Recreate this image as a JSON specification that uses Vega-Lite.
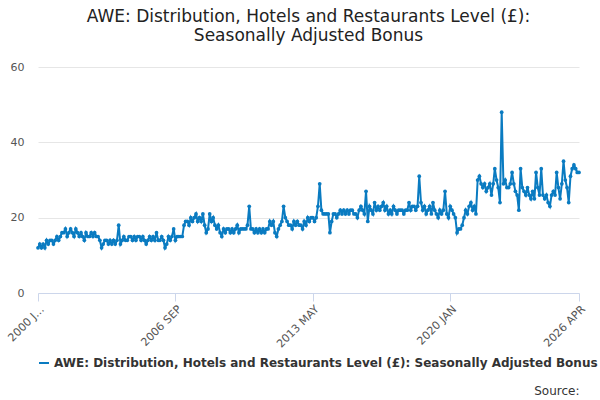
{"$schema":"https://vega.github.io/schema/vega-lite/v6.json","width":541,"height":226,"padding":{"left":5,"top":8,"right":18,"bottom":5},
"title":{"text":["AWE: Distribution, Hotels and Restaurants Level (£):","Seasonally Adjusted Bonus"],"font":"DejaVu Sans","fontSize":17,"fontWeight":"normal","color":"#222","offset":16},
"config":{"font":"DejaVu Sans","view":{"stroke":null}},
"data":{"values":[
{"d":"2000-01","v":12},{"d":"2000-02","v":13},{"d":"2000-03","v":12},{"d":"2000-04","v":13},{"d":"2000-05","v":12},{"d":"2000-06","v":14},{"d":"2000-07","v":13},{"d":"2000-08","v":14},{"d":"2000-09","v":14},{"d":"2000-10","v":13},{"d":"2000-11","v":14},{"d":"2000-12","v":15},
{"d":"2001-01","v":14},{"d":"2001-02","v":15},{"d":"2001-03","v":16},{"d":"2001-04","v":16},{"d":"2001-05","v":17},{"d":"2001-06","v":15},{"d":"2001-07","v":16},{"d":"2001-08","v":17},{"d":"2001-09","v":16},{"d":"2001-10","v":15},{"d":"2001-11","v":17},{"d":"2001-12","v":16},
{"d":"2002-01","v":15},{"d":"2002-02","v":16},{"d":"2002-03","v":15},{"d":"2002-04","v":14},{"d":"2002-05","v":16},{"d":"2002-06","v":15},{"d":"2002-07","v":15},{"d":"2002-08","v":16},{"d":"2002-09","v":15},{"d":"2002-10","v":16},{"d":"2002-11","v":15},{"d":"2002-12","v":15},
{"d":"2003-01","v":14},{"d":"2003-02","v":12},{"d":"2003-03","v":13},{"d":"2003-04","v":14},{"d":"2003-05","v":14},{"d":"2003-06","v":13},{"d":"2003-07","v":14},{"d":"2003-08","v":13},{"d":"2003-09","v":14},{"d":"2003-10","v":13},{"d":"2003-11","v":14},{"d":"2003-12","v":18},
{"d":"2004-01","v":13},{"d":"2004-02","v":14},{"d":"2004-03","v":15},{"d":"2004-04","v":14},{"d":"2004-05","v":14},{"d":"2004-06","v":15},{"d":"2004-07","v":15},{"d":"2004-08","v":14},{"d":"2004-09","v":15},{"d":"2004-10","v":14},{"d":"2004-11","v":15},{"d":"2004-12","v":15},
{"d":"2005-01","v":14},{"d":"2005-02","v":15},{"d":"2005-03","v":14},{"d":"2005-04","v":13},{"d":"2005-05","v":14},{"d":"2005-06","v":15},{"d":"2005-07","v":14},{"d":"2005-08","v":15},{"d":"2005-09","v":14},{"d":"2005-10","v":16},{"d":"2005-11","v":14},{"d":"2005-12","v":14},
{"d":"2006-01","v":15},{"d":"2006-02","v":14},{"d":"2006-03","v":12},{"d":"2006-04","v":13},{"d":"2006-05","v":15},{"d":"2006-06","v":14},{"d":"2006-07","v":15},{"d":"2006-08","v":17},{"d":"2006-09","v":14},{"d":"2006-10","v":15},{"d":"2006-11","v":15},{"d":"2006-12","v":15},
{"d":"2007-01","v":15},{"d":"2007-02","v":18},{"d":"2007-03","v":19},{"d":"2007-04","v":19},{"d":"2007-05","v":18},{"d":"2007-06","v":20},{"d":"2007-07","v":19},{"d":"2007-08","v":20},{"d":"2007-09","v":21},{"d":"2007-10","v":19},{"d":"2007-11","v":20},{"d":"2007-12","v":19},
{"d":"2008-01","v":21},{"d":"2008-02","v":18},{"d":"2008-03","v":16},{"d":"2008-04","v":17},{"d":"2008-05","v":21},{"d":"2008-06","v":19},{"d":"2008-07","v":20},{"d":"2008-08","v":18},{"d":"2008-09","v":17},{"d":"2008-10","v":18},{"d":"2008-11","v":16},{"d":"2008-12","v":15},
{"d":"2009-01","v":17},{"d":"2009-02","v":16},{"d":"2009-03","v":17},{"d":"2009-04","v":17},{"d":"2009-05","v":16},{"d":"2009-06","v":17},{"d":"2009-07","v":16},{"d":"2009-08","v":17},{"d":"2009-09","v":18},{"d":"2009-10","v":16},{"d":"2009-11","v":17},{"d":"2009-12","v":17},
{"d":"2010-01","v":17},{"d":"2010-02","v":17},{"d":"2010-03","v":18},{"d":"2010-04","v":23},{"d":"2010-05","v":17},{"d":"2010-06","v":17},{"d":"2010-07","v":16},{"d":"2010-08","v":17},{"d":"2010-09","v":16},{"d":"2010-10","v":17},{"d":"2010-11","v":16},{"d":"2010-12","v":17},
{"d":"2011-01","v":16},{"d":"2011-02","v":17},{"d":"2011-03","v":17},{"d":"2011-04","v":19},{"d":"2011-05","v":18},{"d":"2011-06","v":19},{"d":"2011-07","v":16},{"d":"2011-08","v":15},{"d":"2011-09","v":17},{"d":"2011-10","v":18},{"d":"2011-11","v":19},{"d":"2011-12","v":23},
{"d":"2012-01","v":20},{"d":"2012-02","v":19},{"d":"2012-03","v":18},{"d":"2012-04","v":18},{"d":"2012-05","v":17},{"d":"2012-06","v":19},{"d":"2012-07","v":18},{"d":"2012-08","v":19},{"d":"2012-09","v":18},{"d":"2012-10","v":18},{"d":"2012-11","v":17},{"d":"2012-12","v":19},
{"d":"2013-01","v":18},{"d":"2013-02","v":20},{"d":"2013-03","v":19},{"d":"2013-04","v":20},{"d":"2013-05","v":20},{"d":"2013-06","v":19},{"d":"2013-07","v":20},{"d":"2013-08","v":23},{"d":"2013-09","v":29},{"d":"2013-10","v":22},{"d":"2013-11","v":21},{"d":"2013-12","v":21},
{"d":"2014-01","v":21},{"d":"2014-02","v":21},{"d":"2014-03","v":16},{"d":"2014-04","v":19},{"d":"2014-05","v":21},{"d":"2014-06","v":21},{"d":"2014-07","v":20},{"d":"2014-08","v":21},{"d":"2014-09","v":22},{"d":"2014-10","v":21},{"d":"2014-11","v":22},{"d":"2014-12","v":21},
{"d":"2015-01","v":22},{"d":"2015-02","v":21},{"d":"2015-03","v":22},{"d":"2015-04","v":22},{"d":"2015-05","v":21},{"d":"2015-06","v":21},{"d":"2015-07","v":20},{"d":"2015-08","v":22},{"d":"2015-09","v":23},{"d":"2015-10","v":22},{"d":"2015-11","v":21},{"d":"2015-12","v":27},
{"d":"2016-01","v":19},{"d":"2016-02","v":23},{"d":"2016-03","v":22},{"d":"2016-04","v":21},{"d":"2016-05","v":24},{"d":"2016-06","v":22},{"d":"2016-07","v":23},{"d":"2016-08","v":22},{"d":"2016-09","v":23},{"d":"2016-10","v":24},{"d":"2016-11","v":22},{"d":"2016-12","v":23},
{"d":"2017-01","v":21},{"d":"2017-02","v":22},{"d":"2017-03","v":21},{"d":"2017-04","v":23},{"d":"2017-05","v":22},{"d":"2017-06","v":21},{"d":"2017-07","v":22},{"d":"2017-08","v":22},{"d":"2017-09","v":22},{"d":"2017-10","v":21},{"d":"2017-11","v":22},{"d":"2017-12","v":22},
{"d":"2018-01","v":24},{"d":"2018-02","v":22},{"d":"2018-03","v":23},{"d":"2018-04","v":23},{"d":"2018-05","v":22},{"d":"2018-06","v":23},{"d":"2018-07","v":31},{"d":"2018-08","v":24},{"d":"2018-09","v":22},{"d":"2018-10","v":23},{"d":"2018-11","v":21},{"d":"2018-12","v":22},
{"d":"2019-01","v":23},{"d":"2019-02","v":21},{"d":"2019-03","v":24},{"d":"2019-04","v":22},{"d":"2019-05","v":21},{"d":"2019-06","v":20},{"d":"2019-07","v":22},{"d":"2019-08","v":21},{"d":"2019-09","v":22},{"d":"2019-10","v":27},{"d":"2019-11","v":21},{"d":"2019-12","v":20},
{"d":"2020-01","v":23},{"d":"2020-02","v":22},{"d":"2020-03","v":21},{"d":"2020-04","v":20},{"d":"2020-05","v":16},{"d":"2020-06","v":17},{"d":"2020-07","v":17},{"d":"2020-08","v":18},{"d":"2020-09","v":20},{"d":"2020-10","v":22},{"d":"2020-11","v":21},{"d":"2020-12","v":23},
{"d":"2021-01","v":24},{"d":"2021-02","v":22},{"d":"2021-03","v":23},{"d":"2021-04","v":21},{"d":"2021-05","v":30},{"d":"2021-06","v":31},{"d":"2021-07","v":29},{"d":"2021-08","v":28},{"d":"2021-09","v":29},{"d":"2021-10","v":27},{"d":"2021-11","v":28},{"d":"2021-12","v":29},
{"d":"2022-01","v":26},{"d":"2022-02","v":29},{"d":"2022-03","v":33},{"d":"2022-04","v":30},{"d":"2022-05","v":28},{"d":"2022-06","v":24},{"d":"2022-07","v":48},{"d":"2022-08","v":29},{"d":"2022-09","v":30},{"d":"2022-10","v":28},{"d":"2022-11","v":28},{"d":"2022-12","v":29},
{"d":"2023-01","v":32},{"d":"2023-02","v":29},{"d":"2023-03","v":27},{"d":"2023-04","v":26},{"d":"2023-05","v":22},{"d":"2023-06","v":33},{"d":"2023-07","v":28},{"d":"2023-08","v":27},{"d":"2023-09","v":26},{"d":"2023-10","v":28},{"d":"2023-11","v":26},{"d":"2023-12","v":25},
{"d":"2024-01","v":27},{"d":"2024-02","v":25},{"d":"2024-03","v":32},{"d":"2024-04","v":28},{"d":"2024-05","v":26},{"d":"2024-06","v":33},{"d":"2024-07","v":26},{"d":"2024-08","v":25},{"d":"2024-09","v":26},{"d":"2024-10","v":24},{"d":"2024-11","v":23},{"d":"2024-12","v":26},
{"d":"2025-01","v":27},{"d":"2025-02","v":26},{"d":"2025-03","v":32},{"d":"2025-04","v":28},{"d":"2025-05","v":25},{"d":"2025-06","v":29},{"d":"2025-07","v":35},{"d":"2025-08","v":30},{"d":"2025-09","v":28},{"d":"2025-10","v":24},{"d":"2025-11","v":31},{"d":"2025-12","v":33},
{"d":"2026-01","v":34},{"d":"2026-02","v":33},{"d":"2026-03","v":32},{"d":"2026-04","v":32}
]},
"transform":[{"calculate":"'AWE: Distribution, Hotels and Restaurants Level (£): Seasonally Adjusted Bonus'","as":"s"}],
"mark":{"type":"line","point":{"size":14,"filled":true},"strokeWidth":2},
"encoding":{
"x":{"field":"d","type":"temporal","title":"Source:","scale":{"nice":false},
"axis":{"values":[{"year":2000,"month":1,"date":1},{"year":2006,"month":9,"date":1},{"year":2013,"month":5,"date":1},{"year":2020,"month":1,"date":1},{"year":2026,"month":4,"date":1}],
"labelExpr":"year(datum.value)==2000 ? '2000 J…' : upper(timeFormat(datum.value,'%Y %b'))","labelAngle":-45,"labelFontSize":11,"labelColor":"#555","grid":false,"domainColor":"#ccd6eb","tickColor":"#ccd6eb","tickSize":8,"titleAnchor":"end","titleFontWeight":"normal","titleFontSize":12,"titleColor":"#333","titlePadding":36}},
"y":{"field":"v","type":"quantitative","title":null,"scale":{"domain":[0,60]},"axis":{"values":[0,20,40,60],"gridColor":"#e6e6e6","domain":false,"ticks":false,"labelFontSize":11,"labelColor":"#555","labelPadding":14}},
"color":{"field":"s","type":"nominal","scale":{"range":["#0a7bc1"]},"legend":{"orient":"bottom","title":null,"labelFontSize":12,"labelFontWeight":"bold","labelColor":"#333","labelLimit":600,"symbolType":"stroke","symbolStrokeWidth":2,"offset":-40}}
}}
